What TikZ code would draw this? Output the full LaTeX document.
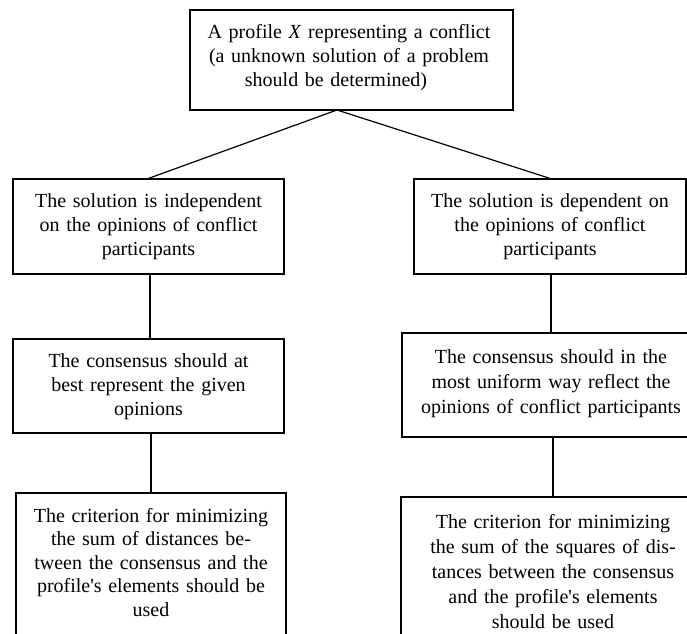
\documentclass[tikz,border=0pt]{standalone}
\usepackage{fontspec}
\setmainfont{Liberation Serif}[Ligatures=TeXOff]
\begin{document}
\begin{tikzpicture}[x=1pt,y=-1pt,
  box/.style={draw,line width=1.2pt,rectangle,inner sep=0pt},
  txt/.style={inner sep=0pt,text width=300pt,align=center,anchor=base,
    font=\fontsize{20}{24}\selectfont},
  link/.style={line width=1.2pt}]
\useasboundingbox (0,0) rectangle (687,633);
\clip (0,0) rectangle (687,633);
% boxes
\node[box,minimum width=323,minimum height=100] (top) at (351.5,60) {};
\node[box,minimum width=271,minimum height=95] (l1) at (148.5,226.5) {};
\node[box,minimum width=272,minimum height=95] (r1) at (550,226.5) {};
\node[box,minimum width=271,minimum height=94] (l2) at (148.5,386) {};
\node[box,minimum width=298,minimum height=104] (r2) at (551,385) {};
\node[box,minimum width=270,minimum height=167] (l3) at (151,576.5) {};
\node[box,minimum width=304,minimum height=163] (r3) at (553,578.5) {};
% texts
\node[txt] (ttop) at (349,38) {A profile \textit{X} representing a conflict\\(a unknown solution of a problem\\\hspace*{-26pt}should be determined)};
\node[txt] (tl1) at (148.5,207) {The solution is independent\\on the opinions of conflict\\participants};
\node[txt] (tr1) at (550,207) {The solution is dependent on\\the opinions of conflict\\participants};
\node[txt] (tl2) at (148.5,367.5) {The consensus should at\\best represent the given\\opinions};
\node[txt,font=\fontsize{20}{25}\selectfont] (tr2) at (551,363) {The consensus should in the\\most uniform way reflect the\\opinions of conflict participants};
\node[txt,font=\fontsize{20}{23.5}\selectfont] (tl3) at (151,522) {The criterion for minimizing\\the sum of distances be-\\tween the consensus and the\\profile's elements should be\\used};
\node[txt,font=\fontsize{20}{25}\selectfont] (tr3) at (553,528) {The criterion for minimizing\\the sum of the squares of dis-\\tances between the consensus\\and the profile's elements\\should be used};
% connectors
\coordinate (apex) at (337,110);
\coordinate (l1l2) at (150,0);
\draw[link] (apex) -- (l1.north);
\draw[link] (apex) -- (r1.north);
\draw[link] (l1.south -| l1l2) -- (l2.north -| l1l2);
\draw[link] (l2.south -| l3.north) -- (l3.north);
\draw[link] (r1.south -| r2.north) -- (r2.north);
\draw[link] (r2.south -| r3.north) -- (r3.north);
\end{tikzpicture}
\end{document}
